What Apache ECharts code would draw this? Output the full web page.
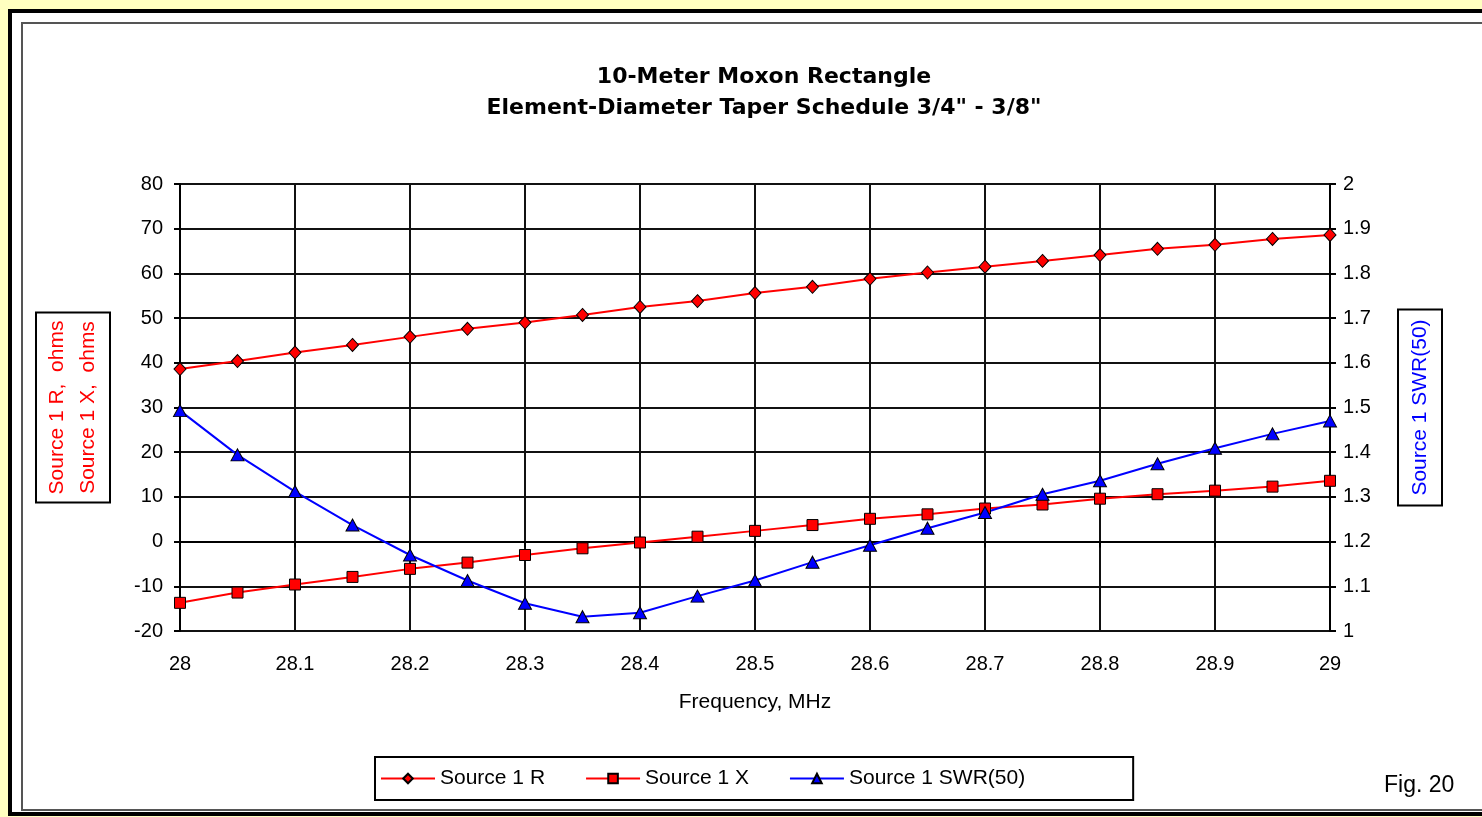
<!DOCTYPE html>
<html>
<head>
<meta charset="utf-8">
<script src="https://cdn.jsdelivr.net/npm/echarts@6/dist/echarts.min.js"></script>
<style>
  html, body { margin: 0; padding: 0; background: #ffffc0; }
  #chart { width: 1482px; height: 817px; }
</style>
</head>
<body>
<div id="chart"></div>
<script>
// ---- data ----
const freq = [28, 28.05, 28.1, 28.15, 28.2, 28.25, 28.3, 28.35, 28.4, 28.45, 28.5,
              28.55, 28.6, 28.65, 28.7, 28.75, 28.8, 28.85, 28.9, 28.95, 29];
const sourceR = [38.6, 40.4, 42.3, 44.0, 45.8, 47.6, 49.0, 50.7, 52.5, 53.8, 55.6,
                 57.0, 58.8, 60.2, 61.5, 62.8, 64.1, 65.5, 66.4, 67.7, 68.6];
const sourceX = [-13.7, -11.4, -9.6, -7.9, -6.1, -4.7, -3.0, -1.5, -0.2, 1.1, 2.4,
                 3.7, 5.1, 6.1, 7.4, 8.3, 9.6, 10.6, 11.4, 12.3, 13.6];
const sourceSWR = [1.493, 1.394, 1.312, 1.237, 1.170, 1.113, 1.062, 1.032, 1.041, 1.078, 1.113,
                   1.154, 1.192, 1.230, 1.265, 1.306, 1.336, 1.374, 1.409, 1.441, 1.470];
const seriesNames = ['Source 1 R', 'Source 1 X', 'Source 1 SWR(50)'];
const titleLines = ['10-Meter Moxon Rectangle', 'Element-Diameter Taper Schedule 3/4" - 3/8"'];
const xAxisName = 'Frequency, MHz';
const leftAxisName = 'Source 1 R,  ohms\nSource 1 X,  ohms';
const rightAxisName = 'Source 1 SWR(50)';
const figLabel = 'Fig. 20';

const pair = (xs, ys) => xs.map((x, i) => [x, ys[i]]);
const FONT = 'Arial, "Liberation Sans", sans-serif';
const TITLE_FONT = '"DejaVu Sans", Arial, sans-serif';
const trim = v => String(Math.round(v * 100) / 100);

const chart = echarts.init(document.getElementById('chart'));
chart.setOption({
  backgroundColor: '#ffffc0',
  animation: false,
  textStyle: { fontFamily: FONT },
  graphic: [
    { type: 'rect', z: -100, shape: { x: 10, y: 11, width: 1500, height: 803 },
      style: { fill: '#ffffff', stroke: '#000000', lineWidth: 4 } },
    { type: 'rect', z: -99, shape: { x: 22, y: 23, width: 1490, height: 787 },
      style: { fill: 'none', stroke: '#555555', lineWidth: 2 } }
  ],
  title: [
    {
      text: titleLines.join('\n'),
      left: 764, top: 62, textAlign: 'center', padding: 0,
      textStyle: { fontFamily: TITLE_FONT, fontSize: 22, fontWeight: 'bold', color: '#000', lineHeight: 31 }
    },
    {
      text: figLabel, left: 1384, top: 774, padding: 0,
      textStyle: { fontFamily: FONT, fontSize: 23, fontWeight: 'normal', color: '#000' }
    }
  ],
  legend: {
    data: seriesNames,
    left: 375, top: 757,
    orient: 'horizontal',
    itemWidth: 54, itemHeight: 12, itemGap: 40,
    padding: [11, 108, 11, 5],
    borderColor: '#000', borderWidth: 2, backgroundColor: '#fff',
    textStyle: { fontFamily: FONT, fontSize: 21, color: '#000' }
  },
  grid: { left: 180, right: 152, top: 184, bottom: 186, containLabel: false, outerBoundsMode: 'none' },
  xAxis: {
    type: 'value', min: 28, max: 29, interval: 0.1,
    name: xAxisName, nameLocation: 'middle', nameGap: 61,
    nameTextStyle: { fontFamily: FONT, fontSize: 21, color: '#000' },
    axisLine: { show: true, lineStyle: { color: '#000', width: 2 } },
    axisTick: { show: true, inside: false, length: 6, lineStyle: { color: '#000', width: 2 } },
    axisLabel: { margin: 23, fontSize: 20, color: '#000', fontFamily: FONT, formatter: trim },
    splitLine: { show: true, lineStyle: { color: '#111', width: 2 } }
  },
  yAxis: [
    {
      type: 'value', min: -20, max: 80, interval: 10, position: 'left',
      name: leftAxisName, nameLocation: 'middle', nameGap: 70, nameRotate: 90,
      nameMoveOverlap: false,
      nameTextStyle: { fontFamily: FONT, fontSize: 21, color: '#ff0000', lineHeight: 31,
        borderColor: '#000', borderWidth: 2, padding: [6, 8, 6, 8], align: 'center' },
      axisLine: { show: true, lineStyle: { color: '#000', width: 2 } },
      axisTick: { show: true, inside: false, length: 6, lineStyle: { color: '#000', width: 2 } },
      axisLabel: { margin: 17, fontSize: 20, color: '#000', fontFamily: FONT },
      splitLine: { show: true, lineStyle: { color: '#111', width: 2 } }
    },
    {
      type: 'value', min: 1, max: 2, interval: 0.1, position: 'right',
      name: rightAxisName, nameLocation: 'middle', nameGap: 68, nameRotate: 90,
      nameMoveOverlap: false,
      nameTextStyle: { fontFamily: FONT, fontSize: 21, color: '#0000ff', lineHeight: 24,
        borderColor: '#000', borderWidth: 2, padding: [10, 10, 10, 10], align: 'center' },
      axisLine: { show: true, lineStyle: { color: '#000', width: 2 } },
      axisTick: { show: true, inside: false, length: 6, lineStyle: { color: '#000', width: 2 } },
      axisLabel: { margin: 13, fontSize: 20, color: '#000', fontFamily: FONT, formatter: trim },
      splitLine: { show: false }
    }
  ],
  series: [
    {
      name: seriesNames[0], type: 'line', yAxisIndex: 0, data: pair(freq, sourceR),
      symbol: 'diamond', symbolSize: [12, 13],
      lineStyle: { color: '#ff0000', width: 2 },
      itemStyle: { color: '#ff0000', borderColor: '#000', borderWidth: 1 }
    },
    {
      name: seriesNames[1], type: 'line', yAxisIndex: 0, data: pair(freq, sourceX),
      symbol: 'rect', symbolSize: 11,
      lineStyle: { color: '#ff0000', width: 2 },
      itemStyle: { color: '#ff0000', borderColor: '#000', borderWidth: 1 }
    },
    {
      name: seriesNames[2], type: 'line', yAxisIndex: 1, data: pair(freq, sourceSWR),
      symbol: 'triangle', symbolSize: [13, 12],
      lineStyle: { color: '#0000ff', width: 2 },
      itemStyle: { color: '#0000ff', borderColor: '#000', borderWidth: 1 }
    }
  ]
});
</script>
</body>
</html>
